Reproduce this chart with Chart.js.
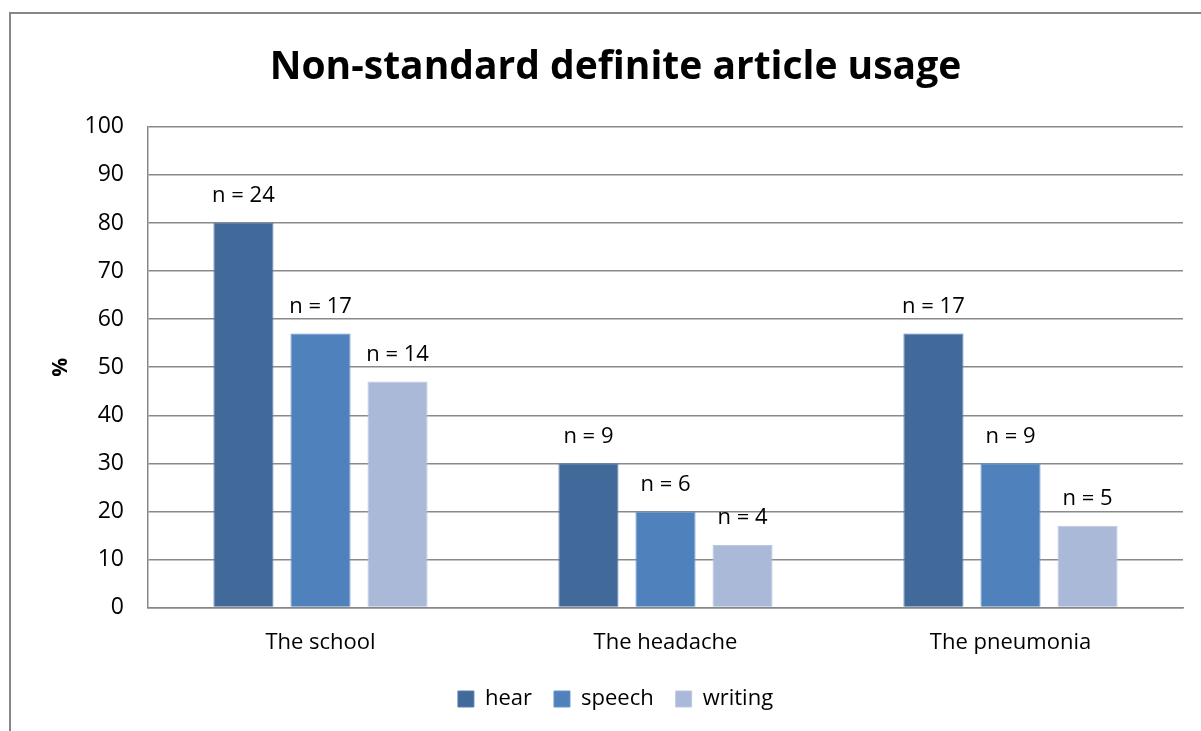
<!DOCTYPE html>
<html>
<head>
<meta charset="utf-8">
<script src="https://cdn.jsdelivr.net/npm/chart.js@4.4.0/dist/chart.umd.min.js"></script>
<style>
  html, body { margin: 0; padding: 0; background: #fff; }
  #wrap { width: 1201px; height: 731px; position: relative; }
</style>
</head>
<body>
<div id="wrap"><canvas id="chart1" width="1201" height="731"></canvas></div>
<script>
const categories = ['The school', 'The headache', 'The pneumonia'];
const hear = [80, 30, 57];
const speech = [57, 20, 30];
const writing = [47, 13, 17];
const hearN = [24, 9, 17];
const speechN = [17, 6, 9];
const writingN = [14, 4, 5];

const FONT = "'Open Sans', 'Liberation Sans', sans-serif";

// 'n = x' labels above the bars
const nLabels = {
  id: 'nLabels',
  afterDatasetsDraw(chart) {
    const ctx = chart.ctx;
    ctx.save();
    ctx.font = '22px ' + FONT;
    ctx.fillStyle = '#000';
    ctx.textAlign = 'center';
    ctx.textBaseline = 'middle';
    chart.data.datasets.forEach((ds, i) => {
      chart.getDatasetMeta(i).data.forEach((bar, j) => {
        ctx.fillText('n = ' + ds.counts[j], bar.x, bar.y - 27);
      });
    });
    ctx.restore();
  }
};

// outer frame of the chart
const frame = {
  id: 'frame',
  beforeDraw(chart) {
    const ctx = chart.ctx;
    ctx.save();
    ctx.strokeStyle = '#878787';
    ctx.lineWidth = 2;
    ctx.strokeRect(10, 13, 1300, 900);
    ctx.restore();
  }
};

const data = {
  labels: categories,
  datasets: [
    { label: 'hear', data: hear, counts: hearN, backgroundColor: '#416a9b', borderColor: '#5a7fae', borderWidth: 1 },
    { label: 'speech', data: speech, counts: speechN, backgroundColor: '#4f81bd', borderColor: '#6a94c7', borderWidth: 1 },
    { label: 'writing', data: writing, counts: writingN, backgroundColor: '#aab9d7', borderColor: '#bcc8e0', borderWidth: 1 }
  ]
};

const config = {
  type: 'bar',
  data: data,
  plugins: [frame, nLabels],
  options: {
    responsive: false,
    animation: false,
    categoryPercentage: 0.67,
    barPercentage: 0.78,
    layout: { padding: { left: 48, right: 18, top: 22, bottom: 11 } },
    plugins: {
      title: {
        display: true,
        text: 'Non-standard definite article usage',
        color: '#000',
        font: { family: FONT, size: 39, weight: 'bold' },
        padding: { top: 22, bottom: 36 }
      },
      legend: {
        position: 'bottom',
        labels: {
          color: '#000',
          font: { family: FONT, size: 22 },
          boxWidth: 16,
          boxHeight: 16,
          padding: 22
        }
      },
      tooltip: { enabled: false }
    },
    scales: {
      x: {
        grid: { display: false, drawTicks: false },
        border: { color: '#878787', width: 1.5 },
        ticks: { color: '#000', font: { family: FONT, size: 22 }, padding: 22 },
        afterFit(scale) { scale.height -= 12; }
      },
      y: {
        min: 0,
        max: 100,
        ticks: { stepSize: 10, color: '#000', font: { family: FONT, size: 23 }, padding: 24 },
        grid: { color: '#8a8a8a', lineWidth: 1.5, drawTicks: false },
        border: { color: '#878787', width: 1.5 },
        title: {
          display: true,
          text: '%',
          color: '#000',
          font: { family: FONT, size: 21, weight: 'bold' },
          padding: { top: 0, bottom: 0 }
        },
        afterFit(scale) { scale.width = 100; }
      }
    }
  }
};

const myChart = new Chart(document.getElementById('chart1'), config);
</script>
</body>
</html>
